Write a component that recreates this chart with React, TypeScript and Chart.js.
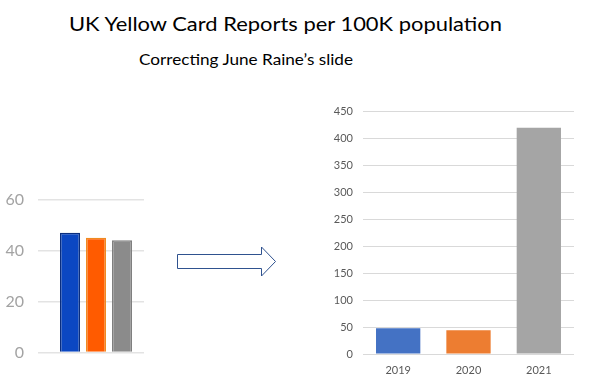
import React, { useEffect, useRef } from "react";
import { Chart, registerables } from "chart.js";

Chart.register(...registerables);

const TITLE = "UK Yellow Card Reports per 100K population";
const SUBTITLE = "Correcting June Raine\u2019s slide";

// Left (original slide) chart
const oldSeriesNames = ["2019", "2020", "2021"];
const oldValues = [47, 45, 44];
const oldColors = ["#0b47c2", "#ff5b00", "#8b8b8b"];
const oldBorders = ["#0a2e7e", "#f08a20", "#7f7f7f"];
const oldTicks = [0, 20, 40, 60];

// Right (corrected) chart
const years = ["2019", "2020", "2021"];
const newValues = [48, 44, 420];
const newColors = ["#4472C4", "#ED7D31", "#A5A5A5"];
const newTicksMax = 450;
const newTicksStep = 50;

const FONT = "Lato, 'Liberation Sans', sans-serif";

function LeftChart() {
  const ref = useRef<HTMLCanvasElement>(null);
  useEffect(() => {
    const chart = new Chart(ref.current!, {
      type: "bar",
      data: {
        labels: [""],
        datasets: oldSeriesNames.map((n, i) => ({
          label: n,
          data: [oldValues[i]],
          backgroundColor: oldColors[i],
          borderColor: oldBorders[i],
          borderWidth: 1.5,
          categoryPercentage: 0.8125,
          barPercentage: 0.77,
        })),
      },
      options: {
        responsive: false,
        animation: false,
        events: [],
        layout: { padding: { top: 15, right: 16, bottom: 12, left: 0 } },
        plugins: { legend: { display: false }, tooltip: { enabled: false } },
        scales: {
          x: { display: false },
          y: {
            min: oldTicks[0],
            max: oldTicks[oldTicks.length - 1],
            ticks: {
              stepSize: 20,
              padding: 14,
              color: "#a3a3a3",
              font: { family: FONT, size: 16 },
            },
            grid: { color: "#e3e3e3", lineWidth: 1.5, tickLength: 10, drawTicks: true },
            border: { display: false },
            afterFit: (s: any) => {
              s.width = 48;
            },
          },
        },
      },
    });
    return () => chart.destroy();
  }, []);
  return (
    <canvas
      ref={ref}
      width={160}
      height={200}
      style={{ position: "absolute", left: 0, top: 176, width: 160, height: 200 }}
    />
  );
}

function RightChart() {
  const ref = useRef<HTMLCanvasElement>(null);
  useEffect(() => {
    const chart = new Chart(ref.current!, {
      type: "bar",
      data: {
        labels: years,
        datasets: [
          {
            label: "Reports",
            data: newValues,
            backgroundColor: newColors,
            borderWidth: 0,
            categoryPercentage: 0.63,
            barPercentage: 1,
          },
        ],
      },
      options: {
        responsive: false,
        animation: false,
        events: [],
        layout: { padding: { top: 16, right: 15, bottom: 0, left: 0 } },
        plugins: { legend: { display: false }, tooltip: { enabled: false } },
        scales: {
          x: {
            grid: { display: false },
            border: { display: false },
            ticks: { color: "#595959", padding: 2, font: { family: FONT, size: 11 } },
            afterFit: (s: any) => {
              s.height = 31;
            },
          },
          y: {
            min: 0,
            max: newTicksMax,
            ticks: {
              stepSize: newTicksStep,
              padding: 10,
              color: "#595959",
              font: { family: FONT, size: 11 },
            },
            grid: { color: "#d9d9d9", lineWidth: 1, drawTicks: false },
            border: { display: false },
            afterFit: (s: any) => {
              s.width = 63;
            },
          },
        },
      },
    });
    return () => chart.destroy();
  }, []);
  return (
    <canvas
      ref={ref}
      width={289}
      height={290}
      style={{ position: "absolute", left: 300, top: 95, width: 289, height: 290 }}
    />
  );
}

export default function App() {
  return (
    <div
      style={{
        position: "fixed",
        left: 0,
        top: 0,
        width: 589,
        height: 385,
        background: "#ffffff",
        overflow: "hidden",
      }}
    >
      <svg
        width={589}
        height={385}
        style={{ position: "absolute", left: 0, top: 0 }}
      >
        <text
          x={69}
          y={30.7}
          fontFamily={FONT}
          fontSize={19.5}
          fill="#000"
          textLength={433}
          lengthAdjust="spacingAndGlyphs"
        >
          {TITLE}
        </text>
        <text
          x={139}
          y={65}
          fontFamily={FONT}
          fontSize={16}
          fill="#000"
          textLength={214}
          lengthAdjust="spacingAndGlyphs"
        >
          {SUBTITLE}
        </text>
        <path
          d="M177.5,254.5 H261.5 V247 L275.5,261.5 L261.5,276 V268.5 H177.5 Z"
          fill="#ffffff"
          stroke="#2F528F"
          strokeWidth={1}
        />
      </svg>
      <LeftChart />
      <RightChart />
    </div>
  );
}
